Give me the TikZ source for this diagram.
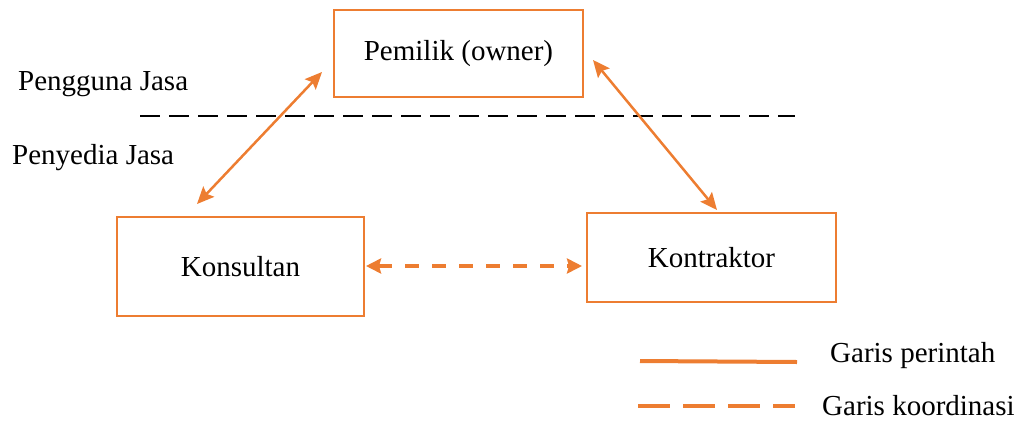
\documentclass[tikz,border=0pt]{standalone}
\usepackage{fontspec}
\setmainfont{Liberation Serif}
\usetikzlibrary{arrows.meta}
\definecolor{org}{HTML}{ED7D31}
\begin{document}
\begin{tikzpicture}[x=1pt,y=-1pt,
  box/.style={draw=org,line width=2.5pt,inner sep=0pt,font=\fontsize{29}{34}\selectfont},
  lbl/.style={font=\fontsize{29}{34}\selectfont,inner sep=0pt,anchor=west},
  cmd/.style={draw=org,line width=2.5pt,{Stealth[length=17pt,width=15pt,inset=3pt]}-{Stealth[length=17pt,width=15pt,inset=3pt]}},
  coord/.style={draw=org,line width=4pt,dash pattern=on 14pt off 13pt,{Stealth[length=15pt,width=15pt,inset=2pt]}-{Stealth[length=15pt,width=15pt,inset=2pt]}},
  sep/.style={draw=black,line width=2pt,dash pattern=on 19.5pt off 9.5pt}]
\useasboundingbox (0,0) rectangle (1026,421);
\node[box,minimum width=249pt,minimum height=87pt] (own) at (458.5,53.5) {Pemilik (owner)};
\node[box,minimum width=247pt,minimum height=99pt] (kons) at (240.5,266.5) {Konsultan};
\node[box,minimum width=249pt,minimum height=89pt] (kont) at (711.5,257.5) {Kontraktor};
\coordinate (s1) at (140,116);
\coordinate (s2) at (795,116);
\draw[sep] (s1) -- (s2);
\node[lbl] (pg) at (18,84) {Pengguna Jasa};
\node[lbl] (py) at (12,158) {Penyedia Jasa};
\coordinate (a1) at (322,72);
\coordinate (a2) at (197,204);
\draw[cmd] (a2) -- (a1);
\coordinate (b1) at (593,60);
\coordinate (b2) at (717,210);
\draw[cmd] (b1) -- (b2);
\coordinate (c1) at (366,266);
\coordinate (c2) at (582,266);
\draw[coord] (c1) -- (c2);
\coordinate (l1) at (640,361);
\coordinate (l2) at (797,362);
\draw[draw=org,line width=4pt] (l1) -- (l2);
\node[lbl] (gp) at (830,356) {Garis perintah};
\coordinate (m1) at (638,406);
\coordinate (m2) at (795,406);
\draw[draw=org,line width=4pt,dash pattern=on 32pt off 13pt] (m1) -- (m2);
\node[lbl] (gk) at (822,406) {Garis koordinasi};
\end{tikzpicture}
\end{document}
